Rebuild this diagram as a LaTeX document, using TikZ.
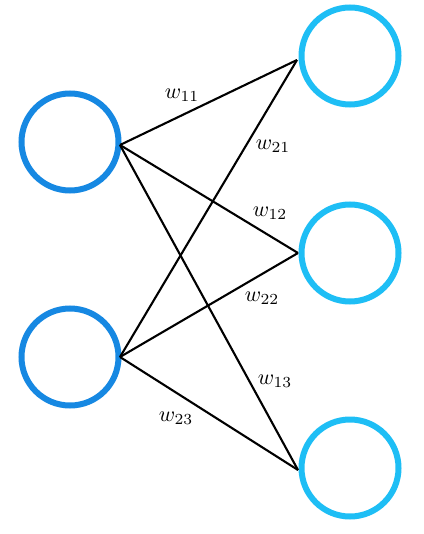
\documentclass[tikz,border=0pt]{standalone}
\usepackage{graphicx}
\definecolor{leftblue}{RGB}{22,136,226}
\definecolor{rightblue}{RGB}{30,190,245}
\newcommand{\wlabel}[1]{\scalebox{2.2}{$#1$}}
\begin{document}
\begin{tikzpicture}[x=1pt,y=-1pt,
  neuron/.style={circle,minimum size=97pt,inner sep=0pt,line width=6pt},
  lneuron/.style={neuron,draw=leftblue},
  rneuron/.style={neuron,draw=rightblue},
  edge/.style={line width=2.1pt,black},
  wlab/.style={inner sep=0pt}]
\useasboundingbox (0,0) rectangle (423,534);
\node[lneuron] (l1) at (70,142) {};
\node[lneuron] (l2) at (70,357) {};
\node[rneuron] (r1) at (350,56) {};
\node[rneuron] (r2) at (350,253) {};
\node[rneuron] (r3) at (350,468) {};
\coordinate (a1) at (120,145);
\coordinate (a2) at (120,357);
\coordinate (b1) at (297,60);
\coordinate (b2) at (298,253);
\coordinate (b3) at (298,470);
\draw[edge] (a1) -- (b1);
\draw[edge] (a1) -- (b2);
\draw[edge] (a1) -- (b3);
\draw[edge] (a2) -- (b1);
\draw[edge] (a2) -- (b2);
\draw[edge] (a2) -- (b3);
\node[wlab] (w11) at (182,95) {\wlabel{w_{11}}};
\node[wlab] (w21) at (273,146) {\wlabel{w_{21}}};
\node[wlab] (w12) at (270,213) {\wlabel{w_{12}}};
\node[wlab] (w22) at (262,298) {\wlabel{w_{22}}};
\node[wlab] (w13) at (275,381) {\wlabel{w_{13}}};
\node[wlab] (w23) at (176,418) {\wlabel{w_{23}}};
\end{tikzpicture}
\end{document}
